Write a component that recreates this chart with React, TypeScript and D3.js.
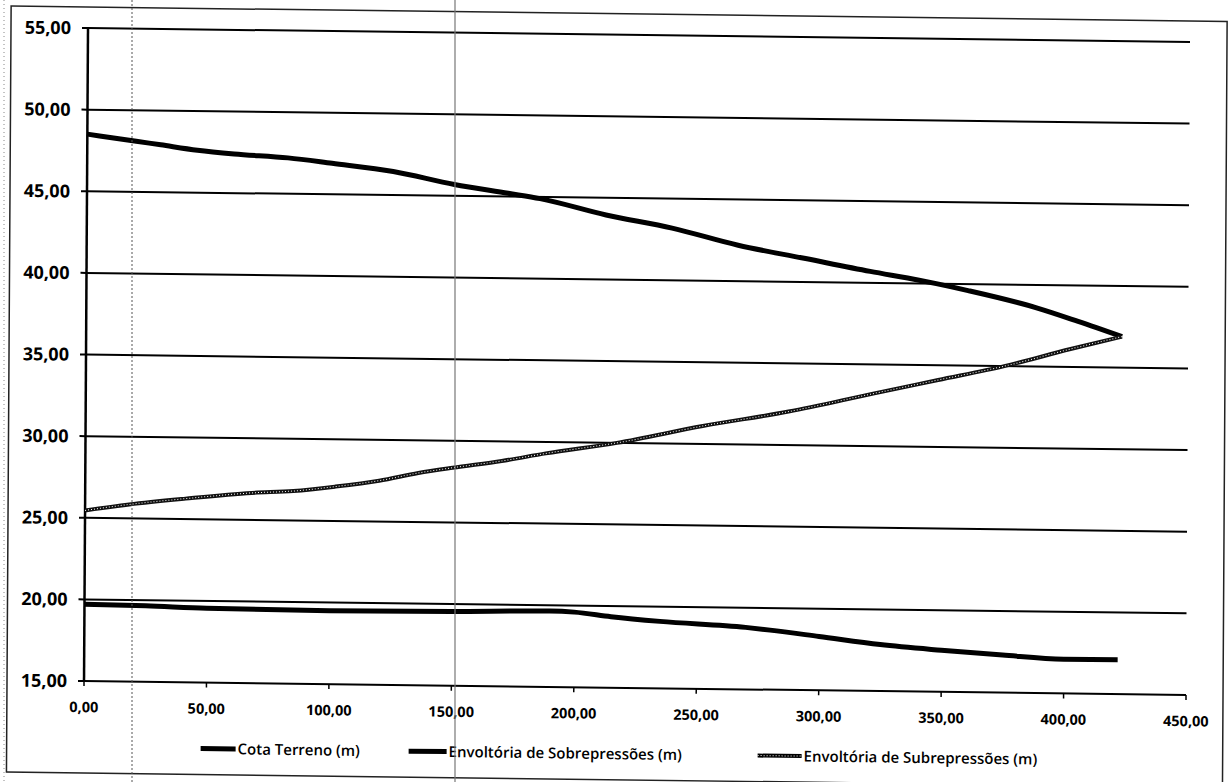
import React from 'react';
import * as d3 from 'd3';

// ---- data ----
const xTickValues = [0, 50, 100, 150, 200, 250, 300, 350, 400, 450];
const yTickValues = [15, 20, 25, 30, 35, 40, 45, 50, 55];

const terrenoX = [0, 25, 50, 100, 150, 190, 200, 215, 235, 270, 280, 300, 325, 350, 375, 400, 422];
const terrenoY = [19.7, 19.65, 19.55, 19.5, 19.55, 19.65, 19.6, 19.35, 19.1, 18.8, 18.65, 18.3, 17.85, 17.55, 17.3, 17.1, 17.1];

const sobreX = [0, 10, 20, 30, 45, 60, 82, 100, 125, 150, 172, 185, 212, 239, 266, 293, 320, 340, 347, 360, 388, 405, 423];
const sobreY = [48.5, 48.3, 48.1, 47.9, 47.6, 47.4, 47.2, 46.9, 46.45, 45.7, 45.2, 44.9, 43.95, 43.2, 42.2, 41.45, 40.7, 40.2, 40.0, 39.6, 38.6, 37.8, 36.9];

const subX = [0, 18, 41, 68, 85, 102, 120, 136, 150, 170, 188, 217, 252, 287, 321, 348, 375, 402, 423];
const subY = [25.45, 25.85, 26.25, 26.65, 26.8, 27.1, 27.5, 28.0, 28.35, 28.8, 29.3, 30.0, 31.1, 32.05, 33.2, 34.1, 35.0, 36.1, 36.9];

const legendLabels = ['Cota Terreno (m)', 'Envoltória de Sobrepressões (m)', 'Envoltória de Subrepressões (m)'];

const W = 1232;
const H = 782;
const X0 = 88, X1 = 1190, Y0 = 28, Y1 = 681;
const FONT = '"Open Sans", "Liberation Sans", sans-serif';

const fmt = (v: number) => d3.format('.2f')(v).replace('.', ',');

export default function App() {
  const x = d3.scaleLinear().domain([0, 450]).range([X0, X1]);
  const y = d3.scaleLinear().domain([15, 55]).range([Y1, Y0]);

  const line = d3
    .line<[number, number]>()
    .x((d) => x(d[0]))
    .y((d) => y(d[1]))
    .curve(d3.curveMonotoneX);

  const zip = (a: number[], b: number[]) => a.map((v, i) => [v, b[i]] as [number, number]);
  const terrenoPath = line(zip(terrenoX, terrenoY)) || '';
  const sobrePath = line(zip(sobreX, sobreY)) || '';
  const subPath = line(zip(subX, subY)) || '';

  const skew = `translate(${X0},${Y0}) matrix(1,0.0127,-0.0061,1,0,0) translate(${-X0},${-Y0})`;

  const legendY = 747;
  const legendItems = [
    { x1: 205, x2: 240, tx: 242 },
    { x1: 413, x2: 451, tx: 453 },
    { x1: 762, x2: 806, tx: 808 },
  ];

  return (
    <svg width={W} height={H} style={{ position: 'absolute', left: 0, top: 0, background: '#fff' }}>
      <rect x={0} y={0} width={W} height={H} fill="#fff" />
      <g transform={skew}>
        {/* chart frame */}
        <rect x={11} y={7} width={1216} height={766} fill="none" stroke="#222" strokeWidth={1.5} />

        {/* horizontal gridlines */}
        {yTickValues.map((v) => (
          <line key={'g' + v} x1={X0} x2={X1} y1={y(v)} y2={y(v)} stroke="#000" strokeWidth={2} />
        ))}
        {/* y ticks */}
        {yTickValues.map((v) => (
          <line key={'yt' + v} x1={X0 - 6} x2={X0} y1={y(v)} y2={y(v)} stroke="#000" strokeWidth={2} />
        ))}
        {/* x ticks */}
        {xTickValues.map((v) => (
          <line key={'xt' + v} x1={x(v)} x2={x(v)} y1={Y1} y2={Y1 + 5} stroke="#000" strokeWidth={1.5} />
        ))}
        {/* y axis */}
        <line x1={X0} x2={X0} y1={Y0} y2={Y1} stroke="#000" strokeWidth={2.5} />

        {/* y labels */}
        {yTickValues.map((v) => (
          <text
            key={'yl' + v}
            x={X0 - 17}
            y={y(v)}
            dy="0.36em"
            textAnchor="end"
            fontFamily={FONT}
            fontWeight={700}
            fontSize={18}
            fill="#000"
          >
            {fmt(v)}
          </text>
        ))}
        {/* x labels */}
        {xTickValues.map((v) => (
          <text
            key={'xl' + v}
            x={x(v)}
            y={Y1 + 26}
            dy="0.36em"
            textAnchor="middle"
            fontFamily={FONT}
            fontWeight={700}
            fontSize={14.5}
            fill="#000"
          >
            {fmt(v)}
          </text>
        ))}

        {/* series */}
        <path d={terrenoPath} fill="none" stroke="#000" strokeWidth={5} strokeLinejoin="round" />
        <path d={sobrePath} fill="none" stroke="#000" strokeWidth={5} strokeLinejoin="round" />
        <path d={subPath} fill="none" stroke="#111" strokeWidth={4} strokeLinejoin="round" />
        <path d={subPath} fill="none" stroke="#fff" strokeWidth={1} strokeDasharray="1 2" />

        {/* legend */}
        {legendItems.map((it, i) => (
          <g key={'lg' + i}>
            <line x1={it.x1} x2={it.x2} y1={legendY} y2={legendY} stroke="#000" strokeWidth={i === 2 ? 4 : 5} />
            {i === 2 && (
              <line x1={it.x1} x2={it.x2} y1={legendY} y2={legendY} stroke="#fff" strokeWidth={1} strokeDasharray="1 2" />
            )}
            <text x={it.tx} y={legendY} dy="0.36em" fontFamily={FONT} fontWeight={600} fontSize={15} fill="#000">
              {legendLabels[i]}
            </text>
          </g>
        ))}
      </g>

      {/* scan artifacts: vertical lines */}
      <line x1={132} x2={132} y1={0} y2={H} stroke="#555" strokeWidth={1} strokeDasharray="2 2" />
      <line x1={455} x2={455} y1={0} y2={H} stroke="#777" strokeWidth={1.2} />
      <line x1={4} x2={4} y1={0} y2={H} stroke="#888" strokeWidth={1} strokeDasharray="1 3" />
    </svg>
  );
}
